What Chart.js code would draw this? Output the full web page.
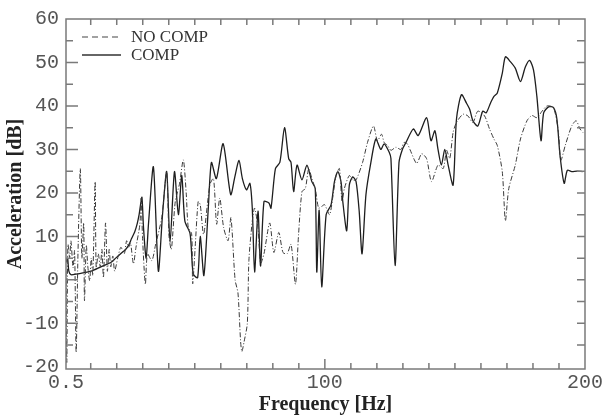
<!DOCTYPE html>
<html>
<head>
<meta charset="utf-8">
<script src="https://cdn.jsdelivr.net/npm/chart.js@4/dist/chart.umd.min.js"></script>
<style>
  html, body { margin: 0; padding: 0; background: #fff; }
  #wrap { width: 605px; height: 417px; }
</style>
</head>
<body>
<div id="wrap"><canvas id="chart" width="605" height="417"></canvas></div>
<script>
// frequency [Hz] / acceleration [dB]
var noCompFreq = [0.5, 0.8, 1.1, 1.3, 1.9, 2.4, 3.2, 3.8, 4.4, 5.1, 6.0, 6.6, 7.3, 7.6, 8.3, 8.9, 9.6, 10.2, 10.8, 11.7,
  12.1, 12.9, 13.7, 14.3, 14.9, 15.7, 16.4, 17.1, 17.7, 18.5, 19.2, 20.4, 21.6, 22.9, 23.8, 24.6, 25.3, 26.4, 27.4, 28.9,
  29.4, 29.9, 31.0, 31.8, 33.5, 34.9, 37.3, 39.2, 40.1, 41.0, 42.5, 44.1, 45.6, 46.7, 47.5, 48.8, 49.2, 50.2, 51.3, 52.1,
  53.4, 55.8, 57.2, 58.4, 59.6, 61.1, 62.8, 63.9, 65.5, 66.6, 67.6, 68.1, 68.9, 70.2, 70.8, 72.1, 73.0, 74.3, 75.3, 76.6,
  78.8, 80.4, 82.3, 83.9, 85.5, 87.0, 88.7, 89.9, 91.2, 92.5, 93.8, 95.0, 96.3, 97.6, 98.8, 99.9, 101.8, 103.0, 104.3, 105.6,
  106.6, 107.5, 109.4, 110.7, 112.0, 114.5, 116.4, 118.7, 120.2, 121.8, 122.8, 124.1, 125.4, 127.3, 129.2, 130.4, 131.7, 132.7, 135.3, 137.2,
  139.1, 141.0, 143.5, 145.5, 146.8, 148.0, 149.3, 150.6, 153.1, 155.0, 156.9, 158.8, 161.4, 163.3, 165.0, 166.3, 168.2, 169.4, 170.7, 173.2,
  175.2, 177.7, 179.6, 181.5, 183.5, 185.4, 187.9, 189.8, 190.7, 192.4, 194.9, 196.6, 198.1, 199.2];
var noCompDb = [2, -19, 4, 8.2, 5.1, 9, 2.8, 6.7, -16.7, 6, 25.6, 5, 13.1, -4.8, 8, 3, -0.2, 5, 1, 22.6,
  2.8, 6, 3, 7, 0.5, 13.1, 2, 7, 3, 5.5, 2, 5.1, 7.5, 6, 9, 7.5, 8.5, 3.7, 7.5, 12.8,
  18.8, 10, -1, 6, 4.4, 8, 14.3, 24.9, 10, 7, 18, 22, 27.6, 20, 12, 10.6, -0.9, 8, 18, 17.3,
  10.5, 21.9, 23.3, 12.8, 18.8, 12, 9, 14.3, 0, -3, -14, -16.5, -14.4, -10, 4.4, 13.5, 16.5, 12, 3.8, 6,
  13.1, 6.3, 10.9, 6.3, 6, 8.2, -1, 10.5, 20.3, 21, 25.6, 23.3, 21, 16.5, 16.9, 17.3, 15, 18.8, 24, 25.6,
  18, 21, 24, 23, 23, 27, 31.6, 35.4, 32, 33.5, 31.6, 30.9, 29.8, 30.5, 30, 31.6, 31.3, 30, 26.8, 29,
  27.9, 22.6, 26.4, 25.6, 29.8, 27.9, 33.9, 36.2, 38.1, 37.7, 36.2, 38.8, 37.7, 34.7, 32.4, 30.9, 24.9, 13.6, 21, 26.4,
  32.4, 36.6, 37.8, 37.3, 38.8, 40, 39.6, 33.9, 27.5, 30.9, 35.4, 36.6, 34.7, 33.9];

var compFreq = [0.5, 1.1, 1.6, 2.4, 4.3, 6.2, 10.1, 13.9, 17.7, 19.6, 21.5, 23.4, 24.6, 25.7, 26.9, 27.9, 28.6, 29.2, 29.7, 30.3,
  31.3, 32.2, 34.1, 36.0, 37.6, 39.2, 40.5, 42.2, 43.7, 45.0, 46.2, 48.2, 49.4, 51.1, 52.1, 53.5, 55.2, 56.4, 58.3, 60.9,
  63.8, 65.4, 67.0, 68.3, 69.9, 71.2, 72.1, 73.0, 74.3, 75.3, 76.6, 78.5, 79.3, 81.0, 82.7, 84.5, 86.1, 87.0, 88.0, 89.3,
  91.2, 93.1, 95.0, 96.3, 96.9, 97.8, 98.8, 100.5, 102.4, 103.7, 105.0, 106.2, 106.9, 108.4, 109.4, 110.7, 112.0, 113.2, 114.3, 115.8,
  117.7, 119.6, 121.5, 122.8, 124.7, 125.4, 127.0, 128.5, 129.8, 131.1, 134.0, 135.9, 139.1, 140.8, 142.3, 143.5, 144.8, 146.1, 147.4, 149.3,
  150.6, 152.5, 154.4, 155.7, 156.9, 158.8, 160.7, 162.0, 163.7, 165.0, 166.3, 168.2, 169.4, 171.3, 173.2, 175.2, 177.1, 178.7, 180.2, 181.5,
  183.1, 184.1, 186.0, 187.9, 189.2, 190.4, 192.0, 193.2, 194.9, 196.8, 199.1];
var compDb = [4, 5, 2, 1.2, 1.3, 1.5, 2, 3, 4, 5, 6, 7, 8, 9.5, 11, 13, 15, 17.5, 19, 12,
  5, 12.8, 26, 2, 15, 24.9, 8.6, 24.9, 15, 24, 13.5, 10.6, 1.4, 0.5, 10, 1, 16.5, 27, 23.3, 31.3,
  19.6, 23.7, 27.5, 23.3, 20.7, 22.2, 16.5, 1.8, 15.8, 3.2, 18, 17.7, 16.5, 25.6, 27, 35, 27.9, 27, 20.3, 26.4,
  23, 26.4, 22.6, 21, 1.8, 16, -1.6, 15, 17.3, 22.6, 24.9, 22.6, 18, 11.3, 21.8, 23.7, 22.6, 15.8, 6, 19.6,
  27, 32.4, 30, 31.3, 29.4, 27.9, 3.3, 27, 30, 31.5, 34.7, 33.2, 37.3, 32, 34.3, 30, 26.4, 30, 26.4, 21.8,
  37, 42.6, 40.7, 39.2, 36.6, 35.4, 38.8, 38.4, 40.7, 42.2, 43, 47.5, 51.3, 50.2, 48.7, 45.6, 49, 50.5, 48.3, 42.2,
  32, 38.4, 39.8, 39.6, 37, 28.6, 22.2, 25.2, 24.9, 25, 24.9];

var seriesNames = ['NO COMP', 'COMP'];
var xTickValues = [0.5, 10, 20, 30, 40, 50, 60, 70, 80, 90, 100, 110, 120, 130, 140, 150, 160, 170, 180, 190, 200];
var xTickLabels = ['0.5', '100', '200'];
var yTickValues = [-20, -10, 0, 10, 20, 30, 40, 50, 60];

function toPoints(xs, ys) {
  return xs.map(function (x, i) { return { x: x, y: ys[i] }; });
}

var frameColor = '#7a7a7a';
var tickFont = { family: 'Liberation Mono', size: 20 };
var titleFont = { family: 'Liberation Serif', size: 20, weight: 'bold' };

// box frame with inward ticks on all four sides
var frameTicks = {
  id: 'frameTicks',
  afterDatasetsDraw: function (chart) {
    var ctx = chart.ctx, a = chart.chartArea;
    var xs = chart.scales.x, ys = chart.scales.y;
    ctx.save();
    ctx.strokeStyle = frameColor;
    ctx.lineWidth = 1.5;
    ctx.setLineDash([]);
    ctx.strokeRect(a.left, a.top, a.right - a.left, a.bottom - a.top);
    ctx.beginPath();
    xTickValues.forEach(function (v) {
      if (v === 0.5 || v === 200) return;
      var px = xs.getPixelForValue(v);
      var len = v === 100 ? 10 : 6;
      ctx.moveTo(px, a.bottom); ctx.lineTo(px, a.bottom - len);
      ctx.moveTo(px, a.top); ctx.lineTo(px, a.top + 6);
    });
    for (var v = -15; v < 60; v += 5) {
      var py = ys.getPixelForValue(v);
      var major = v % 10 === 0;
      ctx.moveTo(a.left, py); ctx.lineTo(a.left + (major ? 12 : 7), py);
      ctx.moveTo(a.right, py); ctx.lineTo(a.right - 8, py);
    }
    ctx.stroke();
    ctx.restore();
  }
};

// legend in the upper left corner of the plot
var cornerLegend = {
  id: 'cornerLegend',
  afterDraw: function (chart) {
    var ctx = chart.ctx;
    var rows = [
      { y: 37, dash: [6, 4], width: 1.1, color: '#444' },
      { y: 55, dash: [], width: 1.3, color: '#333' }
    ];
    ctx.save();
    ctx.font = '17px "Liberation Serif"';
    ctx.textBaseline = 'middle';
    ctx.fillStyle = '#333';
    rows.forEach(function (r, i) {
      ctx.beginPath();
      ctx.setLineDash(r.dash);
      ctx.lineWidth = r.width;
      ctx.strokeStyle = r.color;
      ctx.moveTo(82, r.y); ctx.lineTo(121, r.y);
      ctx.stroke();
      ctx.setLineDash([]);
      ctx.fillText(seriesNames[i], 131, r.y + 1);
    });
    ctx.restore();
  }
};

new Chart(document.getElementById('chart'), {
  type: 'line',
  data: {
    datasets: [{
      label: seriesNames[0],
      data: toPoints(noCompFreq, noCompDb),
      borderColor: '#3a3a3a',
      borderWidth: 1,
      borderDash: [5, 2, 1, 2],
      pointRadius: 0,
      tension: 0.25
    }, {
      label: seriesNames[1],
      data: toPoints(compFreq, compDb),
      borderColor: '#1e1e1e',
      borderWidth: 1.3,
      pointRadius: 0,
      tension: 0.25
    }]
  },
  options: {
    responsive: false,
    animation: false,
    layout: { padding: { top: 15, right: 19, left: 0, bottom: 0 } },
    plugins: { legend: { display: false }, tooltip: { enabled: false } },
    scales: {
      x: {
        type: 'linear',
        min: 0.5,
        max: 200,
        afterBuildTicks: function (s) {
          s.ticks = xTickValues.map(function (v) { return { value: v }; });
        },
        afterFit: function (s) { s.height = 48; },
        ticks: {
          autoSkip: false,
          maxRotation: 0,
          padding: 2,
          color: '#555',
          font: tickFont,
          callback: function (v) {
            var t = String(v);
            return xTickLabels.indexOf(t) >= 0 ? t : '';
          }
        },
        grid: { display: false, drawTicks: false },
        border: { display: false },
        title: { display: true, text: 'Frequency [Hz]', color: '#222', font: titleFont, padding: { top: 0, bottom: 0 } }
      },
      y: {
        min: -20.5,
        max: 60,
        afterBuildTicks: function (s) {
          s.ticks = yTickValues.map(function (v) { return { value: v }; });
        },
        afterFit: function (s) { s.width = 66; },
        ticks: { padding: 7, color: '#555', font: tickFont },
        grid: { display: false, drawTicks: false },
        border: { display: false },
        title: { display: true, text: 'Acceleration [dB]', color: '#222', font: titleFont, padding: { top: 4, bottom: 0 } }
      }
    }
  },
  plugins: [frameTicks, cornerLegend]
});
</script>
</body>
</html>
